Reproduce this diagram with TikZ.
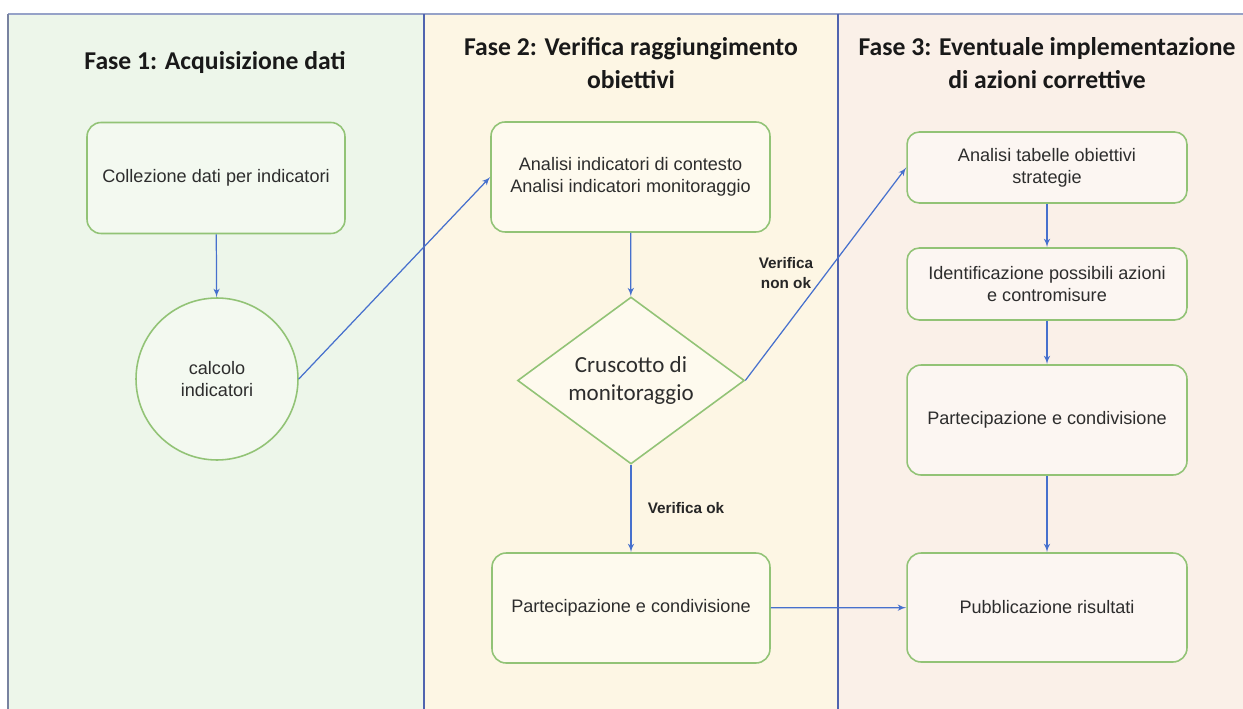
\documentclass[tikz,border=0pt]{standalone}
\usepackage{fontspec}
\setmainfont{Liberation Sans}
\newfontfamily\titlefont{Carlito}
\usetikzlibrary{shapes,arrows}
\definecolor{laneGreen}{RGB}{237,246,234}
\definecolor{laneYellow}{RGB}{253,246,228}
\definecolor{lanePink}{RGB}{250,240,232}
\definecolor{fillGreen}{RGB}{243,249,240}
\definecolor{fillYellow}{RGB}{254,250,238}
\definecolor{fillPink}{RGB}{252,246,242}
\definecolor{boxBorder}{RGB}{146,195,118}
\definecolor{flowBlue}{RGB}{70,112,205}
\definecolor{laneLine}{RGB}{80,100,175}
\definecolor{frameLine}{RGB}{150,162,200}
\definecolor{nodeText}{RGB}{45,45,45}
\tikzstyle{phaseBox} = [rectangle, draw=boxBorder, line width=0.9pt, rounded corners=8pt,
    text=nodeText, align=center, inner sep=0pt, font=\fontsize{10.3}{12.5}\selectfont]
\tikzstyle{calcCircle} = [circle, draw=boxBorder, line width=0.9pt, minimum size=3.24cm,
    text=nodeText, align=center, inner sep=0pt, font=\fontsize{10.3}{12.5}\selectfont]
\tikzstyle{decision} = [diamond, draw=boxBorder, line width=0.9pt, aspect=1.36, inner sep=0pt,
    minimum width=4.54cm, minimum height=3.34cm, text=nodeText, align=center,
    font=\titlefont\fontsize{13.1}{15.9}\selectfont]
\tikzstyle{flow} = [draw=flowBlue, line width=0.7pt, -latex']
\tikzstyle{phaseTitle} = [align=center, text=black!90, font=\titlefont\bfseries\fontsize{14.6}{18.7}\selectfont]
\tikzstyle{edgeLabel} = [align=center, text=black!85, font=\bfseries\fontsize{8.7}{11.5}\selectfont]

\begin{document}
\begin{tikzpicture}[x=0.02cm, y=-0.02cm]
    \useasboundingbox (0,0) rectangle (1243,709);
    % Lanes
    \fill[laneGreen] (8,14) rectangle (424,709);
    \fill[laneYellow] (424,14) rectangle (838,709);
    \fill[lanePink] (838,14) rectangle (1243,709);
    \draw[frameLine, line width=1.2pt] (8,14) -- (1243,14);
    \draw[frameLine!80!black, line width=1.2pt] (8,14) -- (8,709);
    \draw[laneLine, line width=1pt] (424,14) -- (424,709);
    \draw[laneLine, line width=1pt] (838,14) -- (838,709);

    \node[phaseTitle] (titleOne) at (215,63) {Fase 1: Acquisizione dati};
    \node[phaseTitle] (titleTwo) at (631,63) {Fase 2: Verifica raggiungimento\\obiettivi};
    \node[phaseTitle] (titleThree) at (1047,63) {Fase 3: Eventuale implementazione\\di azioni correttive};

    % Place nodes
    \node[phaseBox, fill=fillGreen, minimum width=5.16cm, minimum height=2.22cm] (collectData) at (216,178) {Collezione dati per indicatori};
    \node[calcCircle, fill=fillGreen] (calcIndicators) at (217,379) {calcolo\\indicatori};

    \node[phaseBox, fill=fillYellow, minimum width=5.58cm, minimum height=2.2cm] (analyseIndicators) at (630.5,177) {Analisi indicatori di contesto\\Analisi indicatori monitoraggio};
    \node[decision, fill=fillYellow] (dashboard) at (631,380.5) {Cruscotto di\\monitoraggio};
    \node[phaseBox, fill=fillYellow, minimum width=5.56cm, minimum height=2.2cm] (shareMid) at (631,608) {Partecipazione e condivisione};

    \node[phaseBox, fill=fillPink, rounded corners=7pt, minimum width=5.6cm, minimum height=1.42cm] (analyseTables) at (1047,167.5) {Analisi tabelle obiettivi\\strategie};
    \node[phaseBox, fill=fillPink, rounded corners=7pt, minimum width=5.6cm, minimum height=1.44cm] (identifyActions) at (1047,284) {Identificazione possibili azioni\\e contromisure};
    \node[phaseBox, fill=fillPink, minimum width=5.6cm, minimum height=2.2cm] (shareRight) at (1047,420) {Partecipazione e condivisione};
    \node[phaseBox, fill=fillPink, minimum width=5.6cm, minimum height=2.18cm] (publishResults) at (1047,607.5) {Pubblicazione risultati};

    \path[flow] (collectData) -- (calcIndicators);
    \path[flow] (calcIndicators.east) -- (analyseIndicators.west);
    \path[flow] (analyseIndicators) -- (dashboard);
    \path[flow] (dashboard) -- (shareMid);
    \path[flow] (dashboard.east) -- (analyseTables.west);
    \path[flow] (shareMid) -- (publishResults);
    \path[flow] (analyseTables) -- (identifyActions);
    \path[flow] (identifyActions) -- (shareRight);
    \path[flow] (shareRight) -- (publishResults);

    \node[edgeLabel] (labelOk) at (686,508) {Verifica ok};
    \node[edgeLabel] (labelNotOk) at (786,273) {Verifica\\non ok};
\end{tikzpicture}
\end{document}
